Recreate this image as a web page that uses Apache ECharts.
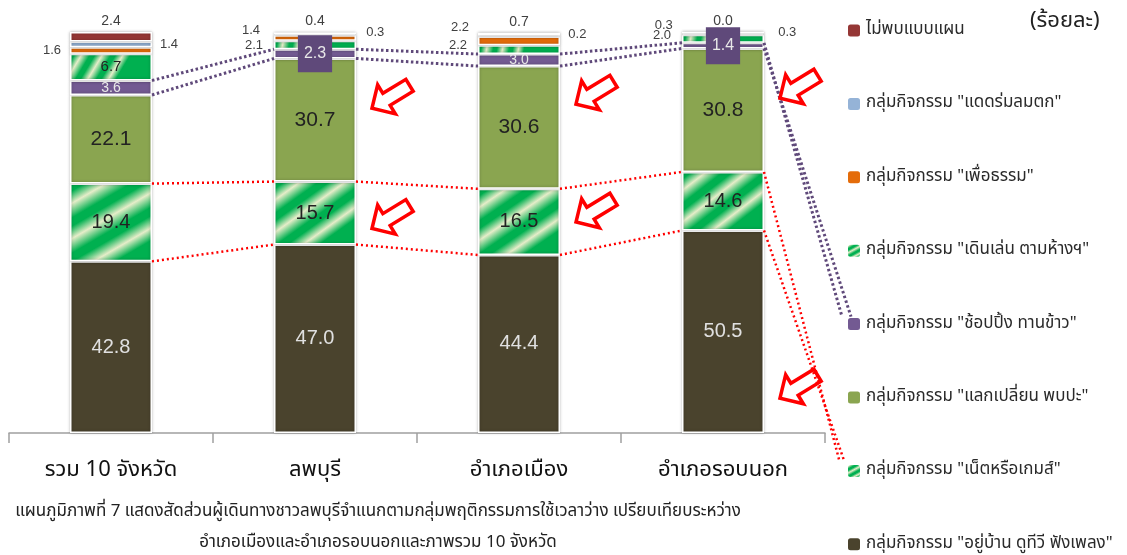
<!DOCTYPE html>
<html>
<head>
<meta charset="utf-8">
<script src="https://cdn.jsdelivr.net/npm/echarts@6/dist/echarts.min.js"></script>
<style>
  html, body { margin: 0; padding: 0; background: #fff; }
  #chart { width: 1127px; height: 555px; }
</style>
</head>
<body>
<div id="chart"></div>
<script>
const categories = ['รวม 10 จังหวัด', 'ลพบุรี', 'อำเภอเมือง', 'อำเภอรอบนอก'];
const homeVals = [42.8, 47.0, 44.4, 50.5];
const netVals = [19.4, 15.7, 16.5, 14.6];
const meetVals = [22.1, 30.7, 30.6, 30.8];
const shopVals = [3.6, 2.3, 3.0, 1.4];
const walkVals = [6.7, 2.1, 2.2, 2.0];
const meritVals = [1.6, 1.4, 2.2, 0.3];
const relaxVals = [1.4, 0.3, 0.2, 0.3];
const noneVals = [2.4, 0.4, 0.7, 0.0];

// arrow annotations: [category index, value where the tip points]
const arrowAnchors = [[1, 81], [1, 51], [2, 82], [2, 52.6], [3, 83.5], [3, 8.7]];

const seriesNames = [
  'กลุ่มกิจกรรม "อยู่บ้าน ดูทีวี ฟังเพลง"',
  'กลุ่มกิจกรรม "เน็ตหรือเกมส์"',
  'กลุ่มกิจกรรม "แลกเปลี่ยน พบปะ"',
  'กลุ่มกิจกรรม "ช้อปปิ้ง ทานข้าว"',
  'กลุ่มกิจกรรม "เดินเล่น ตามห้างฯ"',
  'กลุ่มกิจกรรม "เพื่อธรรม"',
  'กลุ่มกิจกรรม "แดดร่มลมตก"',
  'ไม่พบแบบแผน'
];

const THAI = '"Noto Sans Thai", "Noto Sans", "DejaVu Sans", sans-serif';
const NUM = '"Liberation Sans", Arial, sans-serif';
const BAR_W = 82;
const HALF = BAR_W / 2;
const LEG_X = 841, LEG_TOP = 23, LEG_STEP = 73.4;

function stripes() {
  return new echarts.graphic.LinearGradient(0, 0, 0.55, 1, [
    { offset: 0, color: '#00b050' },
    { offset: 0.08, color: '#00b050' },
    { offset: 0.2, color: '#e6edc9' },
    { offset: 0.34, color: '#00b050' },
    { offset: 0.42, color: '#00b050' },
    { offset: 0.54, color: '#e6edc9' },
    { offset: 0.68, color: '#00b050' },
    { offset: 0.76, color: '#00b050' },
    { offset: 0.88, color: '#e6edc9' },
    { offset: 1, color: '#00b050' }
  ]);
}

function cum(arrs) {
  return categories.map((c, i) => arrs.reduce((s, a) => s + a[i], 0));
}
const homeTop = cum([homeVals]);
const netTop = cum([homeVals, netVals]);
const meetTop = cum([homeVals, netVals, meetVals]);
const shopTop = cum([homeVals, netVals, meetVals, shopVals]);

const fmt = p => p.value.toFixed(1);
const baseItem = { borderColor: '#fff', borderWidth: 1.5, shadowBlur: 3, shadowColor: 'rgba(0,0,0,0.3)' };

function barSeries(name, vals, color, label, perItem) {
  return {
    name: name,
    type: 'bar',
    stack: 'all',
    barWidth: BAR_W,
    itemStyle: Object.assign({ color: color }, baseItem),
    label: Object.assign({ show: true, formatter: fmt, fontFamily: NUM }, label),
    data: vals.map((v, i) => perItem && perItem[i] ? { value: v, label: perItem[i] } : v)
  };
}

const smallLbl = { fontSize: 13, color: '#404040' };

const series = [
  barSeries(seriesNames[0], homeVals, '#4a432d', { position: 'inside', fontSize: 20, color: '#e0e0e0' }),
  barSeries(seriesNames[1], netVals, stripes(), { position: 'inside', fontSize: 20, color: '#222' }),
  barSeries(seriesNames[2], meetVals, '#8aa550', { position: 'inside', fontSize: 21, color: '#222' }),
  barSeries(seriesNames[3], shopVals, '#735a92', { position: 'inside', fontSize: 14, color: '#e8e8e8' }, [
    null,
    { backgroundColor: '#5f497a', padding: [11, 6, 10, 6], fontSize: 16 },
    null,
    { backgroundColor: '#5f497a', padding: [11, 6, 10, 6], fontSize: 16 }
  ]),
  barSeries(seriesNames[4], walkVals, stripes(), Object.assign({ position: 'left', distance: 11 }, smallLbl), [
    { position: 'inside', fontSize: 15, color: '#222' },
    null,
    { offset: [0, -4] },
    { offset: [0, -3] }
  ]),
  barSeries(seriesNames[5], meritVals, '#e46c0a', Object.assign({ position: 'left', distance: 9 }, smallLbl), [
    null,
    { offset: [-3, -8], distance: 11 },
    { offset: [0, -13] },
    { offset: [0, -9] }
  ]),
  barSeries(seriesNames[6], relaxVals, '#95b3d7', Object.assign({ position: 'right', distance: 8 }, smallLbl), [
    null, { offset: [2, -2] }, { offset: [0, -2] }, { offset: [6, -1] }
  ]),
  barSeries(seriesNames[7], noneVals, '#953735', Object.assign({ position: 'top', distance: 4 }, smallLbl, { fontSize: 14 }))
];

// dotted connectors between neighbouring bars
const pairData = [0, 1, 2].map(i => [i, homeTop[i], homeTop[i + 1], netTop[i], netTop[i + 1],
  meetTop[i], meetTop[i + 1], shopTop[i], shopTop[i + 1]]);

const redDot = { stroke: '#ff0000', lineWidth: 2.5, lineDash: [2, 3] };
const purpleDot = { stroke: '#5f497a', lineWidth: 3, lineDash: [2.5, 2.5] };

series.push({
  type: 'custom',
  name: 'connectors',
  silent: true,
  z: 5,
  encode: { x: 0, y: 1 },
  data: pairData,
  renderItem: function (params, api) {
    const i = api.value(0);
    const xa = api.coord([i, 0])[0] + HALF;
    const xb = api.coord([i + 1, 0])[0] - HALF;
    const ln = (va, vb, style) => ({
      type: 'line',
      shape: { x1: xa, y1: api.coord([i, va])[1], x2: xb, y2: api.coord([i + 1, vb])[1] },
      style: style
    });
    return {
      type: 'group',
      children: [
        ln(api.value(1), api.value(2), redDot),
        ln(api.value(3), api.value(4), redDot),
        ln(api.value(5), api.value(6), purpleDot),
        ln(api.value(7), api.value(8), purpleDot)
      ]
    };
  }
});

// connectors from the last bar to legend markers
series.push({
  type: 'custom',
  name: 'legendLinks',
  silent: true,
  z: 5,
  encode: { x: 0, y: 1 },
  data: [[3, shopTop[3], meetTop[3], netTop[3], homeTop[3]]],
  renderItem: function (params, api) {
    const x0 = api.coord([3, 0])[0] + HALF;
    const shopY = LEG_TOP + 4 * LEG_STEP;
    const netY = LEG_TOP + 6 * LEG_STEP;
    const ln = (v, x2, y2, style) => ({
      type: 'line',
      shape: { x1: x0, y1: api.coord([3, v])[1], x2: x2, y2: y2 },
      style: style
    });
    return {
      type: 'group',
      children: [
        ln(api.value(1), LEG_X + 1, shopY, purpleDot),
        ln(api.value(2), LEG_X + 10, shopY, purpleDot),
        ln(api.value(3), LEG_X - 2, netY - 4, redDot),
        ln(api.value(4), LEG_X + 3, netY - 3, redDot)
      ]
    };
  }
});

// hollow red arrows
series.push({
  type: 'custom',
  name: 'arrows',
  silent: true,
  z: 6,
  encode: { x: 0, y: 1 },
  data: arrowAnchors,
  renderItem: function (params, api) {
    const p = api.coord([api.value(0), api.value(1)]);
    const tx = p[0] + 57, ty = p[1];
    const bx = 0.853, by = -0.521; // back direction (tip -> tail)
    const nx = 0.521, ny = 0.853;
    const local = [[0, 0], [17, -17], [17, -7], [44, -7], [44, 7], [17, 7], [17, 17]];
    const pts = local.map(q => [tx + q[0] * bx + q[1] * nx, ty + q[0] * by + q[1] * ny]);
    return {
      type: 'polygon',
      shape: { points: pts },
      style: { fill: 'transparent', stroke: '#ff0000', lineWidth: 3.5, lineJoin: 'miter' }
    };
  }
});

// one legend per entry so each row sits at its own place
const legends = seriesNames.slice().reverse().map((n, k) => ({
  orient: 'vertical',
  left: LEG_X,
  top: LEG_TOP + k * LEG_STEP - 6,
  itemWidth: 14,
  itemHeight: 14,
  data: [n],
  selectedMode: false,
  textStyle: { fontFamily: THAI, fontSize: 17, color: '#2a2a2a' }
}));

const chart = echarts.init(document.getElementById('chart'));
chart.setOption({
  animation: false,
  backgroundColor: '#fff',
  grid: { left: 9, right: 302, top: 32, bottom: 122 },
  legend: legends,
  xAxis: {
    type: 'category',
    data: categories,
    axisLine: { lineStyle: { color: '#a0a0a0', width: 1.5 } },
    axisTick: { show: true, length: 10, lineStyle: { color: '#a0a0a0', width: 1.5 } },
    axisLabel: { fontFamily: THAI, fontSize: 22, color: '#111', margin: 28 }
  },
  yAxis: { type: 'value', min: 0, max: 100, show: false, splitLine: { show: false } },
  graphic: [
    { type: 'text', left: 1030, top: 12, style: { text: '(ร้อยละ)', font: '22px ' + THAI, fill: '#222' } },
    { type: 'text', x: 378, y: 504, style: { text: 'แผนภูมิภาพที่ 7 แสดงสัดส่วนผู้เดินทางชาวลพบุรีจำแนกตามกลุ่มพฤติกรรมการใช้เวลาว่าง เปรียบเทียบระหว่าง', font: '17px ' + THAI, fill: '#222', textAlign: 'center' } },
    { type: 'text', x: 378, y: 535, style: { text: 'อำเภอเมืองและอำเภอรอบนอกและภาพรวม 10 จังหวัด', font: '17px ' + THAI, fill: '#222', textAlign: 'center' } }
  ],
  series: series
});
</script>
</body>
</html>
